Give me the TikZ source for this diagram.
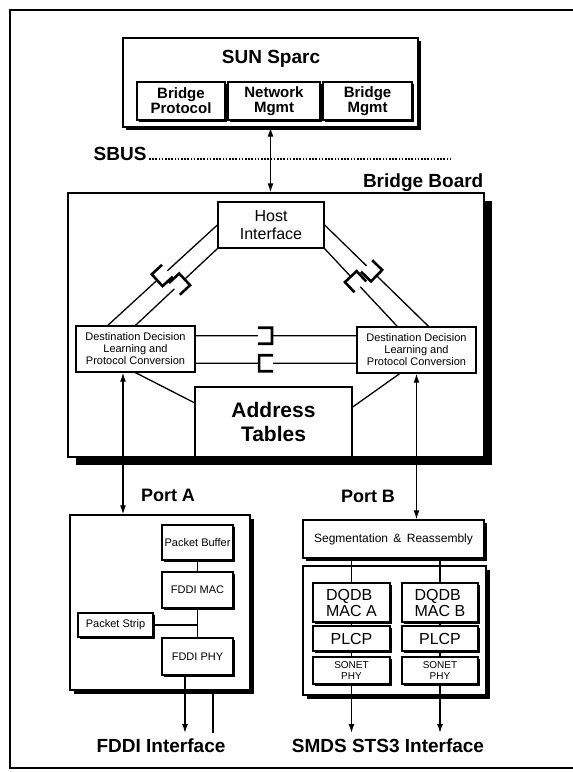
\documentclass[tikz,border=0pt]{standalone}
\usepackage{fontspec}
\setmainfont{Liberation Sans}
\usetikzlibrary{arrows.meta, calc, shadows}

\tikzset{
	box/.style={draw, fill=white, inner sep=0pt, align=center},
	shd/.style={drop shadow={shadow xshift=#1, shadow yshift=-#1, fill=black, opacity=1}},
	head/.style={inner sep=0pt, anchor=base, font=\bfseries\fontsize{19}{22}\selectfont},
	small/.style={font=\fontsize{11}{12}\selectfont},
	sparc/.style={box, shd=2pt, minimum height=38pt, font=\bfseries\fontsize{15}{15}\selectfont}
}

\newcommand{\sockline}[3]{%
	\path ($(#2)!#3!(#1)$) coordinate (sk) ($(sk)!14pt!(#1)$) coordinate (skt)
		($(sk)!8pt!90:(#1)$) coordinate (skl) ($(sk)!8pt!-90:(#1)$) coordinate (skr);
	\draw (#2) -- (sk);
	\draw (#1) -- (skt);
	\draw[line width=2.6pt] ($(skl)+(skt)-(sk)$) -- (skl) -- (skr) -- ($(skr)+(skt)-(sk)$);
}

\begin{document}
\begin{tikzpicture}[x=1pt, y=-1pt, line width=1.3pt, >={Latex[length=9pt,width=6pt]}]
	\useasboundingbox (0,0) rectangle (573,772);
	\draw[line width=2pt] (580,10) -- (10,10) -- (10,768) -- (580,768);

	\node[box, shd=3pt, minimum width=295pt, minimum height=89pt] (sun) at (270.5,82.5) {};
	\node[head] (suntitle) at (271,63) {SUN Sparc};
	\node[sparc, minimum width=88pt] (bp) at (181,101) {Bridge\\Protocol};
	\node[sparc, minimum width=92pt] (nm) at (274,101) {Network\\Mgmt};
	\node[sparc, minimum width=89pt] (bm) at (367.5,101) {Bridge\\Mgmt};

	\node[head, anchor=base west] (sbus) at (93,160) {SBUS};
	\coordinate (sbusend) at (453,159);
	\draw[line width=1.6pt, dash pattern=on 1.6pt off 1.6pt] ([xshift=2pt,yshift=1pt]sbus.base east) -- (sbusend);

	\node[box, shd=8pt, minimum width=416pt, minimum height=264pt] (board) at (276,325) {};
	\node[head, anchor=base east] (boardtitle) at (484,187) {Bridge Board};
	\draw[<->] (sun.south) -- (sun.south |- board.north);

	\node[box, minimum width=106pt, minimum height=46pt, font=\fontsize{16}{18}\selectfont] (host) at (271,225) {Host\\Interface};
	\node[box, small, minimum width=119pt, minimum height=46pt] (ddlA) at (135.5,349) {Destination Decision\\Learning and\\Protocol Conversion};
	\node[box, small, minimum width=119pt, minimum height=46pt] (ddlB) at (416.5,350) {Destination Decision\\Learning and\\Protocol Conversion};
	\node[box, minimum width=157pt, minimum height=70pt, font=\bfseries\fontsize{21}{24}\selectfont] (addr) at (273.5,422) {Address\\Tables};

	\coordinate (la) at ($(ddlA.north west)!0.27!(ddlA.north east)$);
	\coordinate (ra) at ($(ddlB.north west)!0.6!(ddlB.north east)$);
	\coordinate (rb) at ($(ddlB.north west)!0.34!(ddlB.north east)$);
	\coordinate (ht1) at ($(ddlA.north east)!0.22!(ddlA.south east)$);
	\coordinate (ht2) at ($(ddlB.north west)!0.2!(ddlB.south west)$);
	\coordinate (hb1) at ($(ddlA.north east)!0.8!(ddlA.south east)$);
	\coordinate (hb2) at ($(ddlB.north west)!0.78!(ddlB.south west)$);
	\sockline{host.west}{la}{0.45}
	\sockline{ddlA.north}{host.south west}{0.4}
	\sockline{host.east}{ra}{0.5}
	\sockline{rb}{host.south east}{0.36}
	\sockline{ht1}{ht2}{0.525}
	\sockline{hb2}{hb1}{0.395}

	\draw (ddlA.south) -- ($(addr.north west)!0.23!(addr.south west)$);
	\draw ($(ddlB.south west)!0.36!(ddlB.south east)$) -- ($(addr.north east)!0.29!(addr.south east)$);

	\node[box, shd=4pt, minimum width=180pt, minimum height=175pt] (fddi) at (160,602.5) {};
	\coordinate (pa) at (123,0);
	\coordinate (bot) at (0,733);
	\draw[<->] (ddlA.south -| pa) -- (fddi.north -| pa);
	\node[head, font=\bfseries\fontsize{18}{22}\selectfont] (porta) at (168,501) {Port A};

	\node[box, small, shd=2pt, minimum width=71pt, minimum height=35pt] (pbuf) at (197.5,542.5) {Packet Buffer};
	\node[box, small, shd=2pt, minimum width=71pt, minimum height=36pt] (fmac) at (197.5,590) {FDDI MAC};
	\node[box, small, shd=2pt, minimum width=75pt, minimum height=24pt] (pstrip) at (115.5,625) {Packet Strip};
	\node[box, small, shd=2pt, minimum width=71pt, minimum height=37pt] (fphy) at (197.5,656.5) {FDDI PHY};
	\draw (pbuf) -- (fmac);
	\draw (fmac) -- (fphy);
	\draw (pstrip.east) -- (pstrip.east -| fmac.south);
	\coordinate (fo) at (185,733);
	\coordinate (fi) at (213,733);
	\draw[->] (fphy.south -| fo) -- (fo);
	\draw (fi) -- (fi |- fddi.south);
	\node[head] (fdditext) at (161,752) {FDDI Interface};

	\node[box, shd=3pt, minimum width=181pt, minimum height=38pt, font=\fontsize{12}{14}\selectfont] (sar) at (393.5,539) {Segmentation \,\&\, Reassembly};
	\node[box, shd=4pt, minimum width=183pt, minimum height=129pt] (smds) at (394.5,630.5) {};
	\draw[<->] (ddlB.south) -- (ddlB.south |- sar.north);
	\node[head, font=\bfseries\fontsize{18}{22}\selectfont] (portb) at (368,502) {Port B};

	\node[box, shd=2pt, minimum width=77pt, minimum height=39pt, align=left, font=\fontsize{16}{16}\selectfont] (macA) at (351.5,602.5) {DQDB\\MAC A};
	\node[box, shd=2pt, minimum width=76pt, minimum height=39pt, align=left, font=\fontsize{16}{16}\selectfont] (macB) at (440,602.5) {DQDB\\MAC B};
	\node[box, shd=2pt, minimum width=77pt, minimum height=25pt, font=\fontsize{16}{16}\selectfont] (plcpA) at (351.5,638.5) {PLCP};
	\node[box, shd=2pt, minimum width=76pt, minimum height=25pt, font=\fontsize{16}{16}\selectfont] (plcpB) at (440,638.5) {PLCP};
	\node[box, shd=2pt, minimum width=77pt, minimum height=27pt, font=\fontsize{10}{10}\selectfont] (sonA) at (351.5,670.5) {SONET\\PHY};
	\node[box, shd=2pt, minimum width=76pt, minimum height=27pt, font=\fontsize{10}{10}\selectfont] (sonB) at (440,670.5) {SONET\\PHY};
	\draw (macA.north) -- (macA.north |- sar.south);
	\draw (macB.north) -- (macB.north |- sar.south);
	\draw (macA) -- (plcpA);
	\draw (plcpA) -- (sonA);
	\draw (macB) -- (plcpB);
	\draw (plcpB) -- (sonB);
	\draw[->] (sonA.south) -- (sonA.south |- bot);
	\draw[->] (sonB.south) -- (sonB.south |- bot);
	\node[head] (smdstext) at (388,752) {SMDS STS3 Interface};
\end{tikzpicture}
\end{document}
